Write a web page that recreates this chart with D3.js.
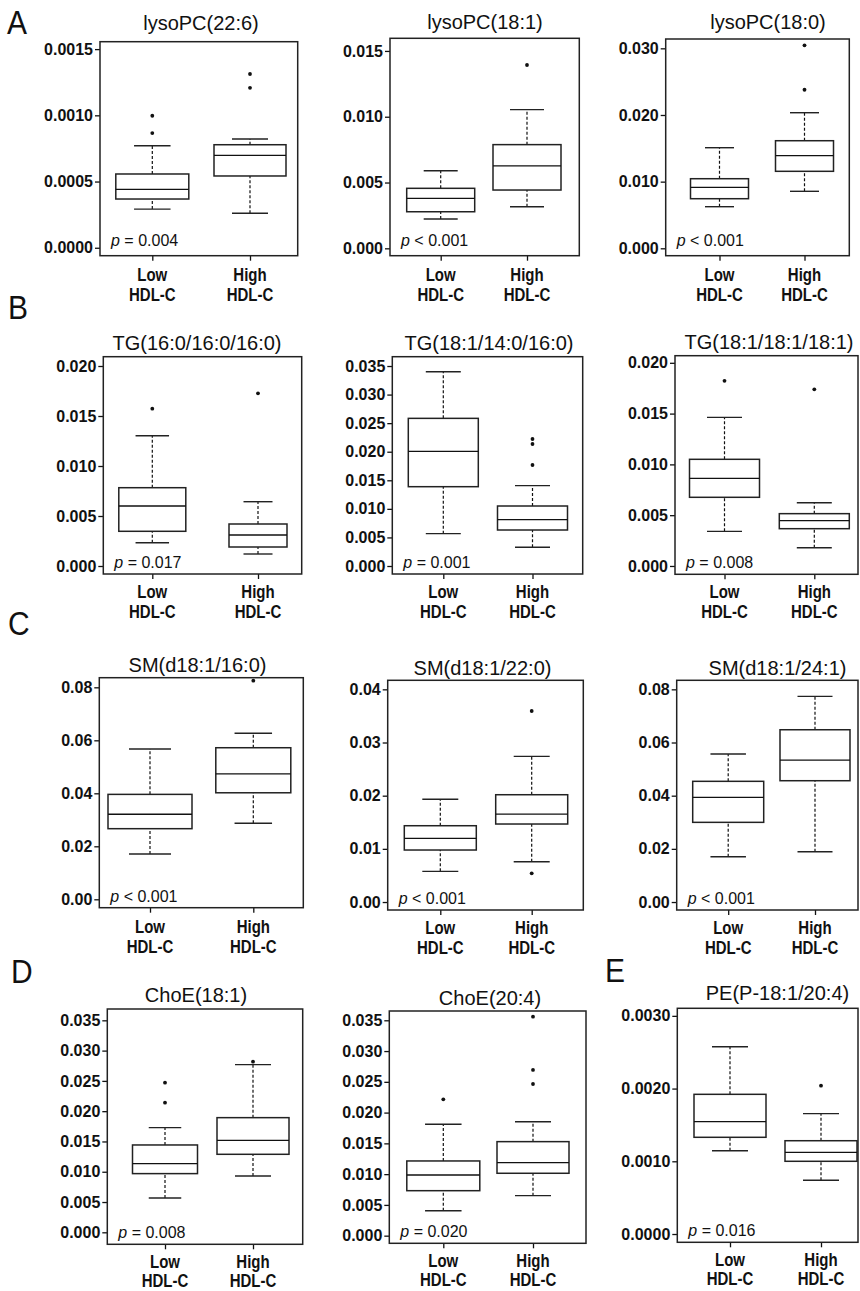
<!DOCTYPE html>
<html>
<head>
<meta charset="utf-8">
<script src="https://cdnjs.cloudflare.com/ajax/libs/d3/7.8.5/d3.min.js"></script>
<style>
  body { margin: 0; background: #fff; }
  svg text { font-family: "Liberation Sans", Arial, sans-serif; fill: #111; }
</style>
</head>
<body>
<div id="main"></div>
<script>
// values
var groups = ['Low', 'High'];
var panelLetters = ['A', 'B', 'C', 'D', 'E'];

var titles = [
  'lysoPC(22:6)', 'lysoPC(18:1)', 'lysoPC(18:0)',
  'TG(16:0/16:0/16:0)', 'TG(18:1/14:0/16:0)', 'TG(18:1/18:1/18:1)',
  'SM(d18:1/16:0)', 'SM(d18:1/22:0)', 'SM(d18:1/24:1)',
  'ChoE(18:1)', 'ChoE(20:4)', 'PE(P-18:1/20:4)'
];

var pLabels = [
  '= 0.004', '< 0.001', '< 0.001',
  '= 0.017', '= 0.001', '= 0.008',
  '< 0.001', '< 0.001', '< 0.001',
  '= 0.008', '= 0.020', '= 0.016'
];

// [lower whisker, Q1, median, Q3, upper whisker]
var lowStats = [
  [0.000292, 0.000368, 0.000441, 0.000557, 0.000770],
  [0.00223, 0.00278, 0.00380, 0.00456, 0.00590],
  [0.00624, 0.00744, 0.00915, 0.01044, 0.01509],
  [0.00233, 0.00347, 0.0060, 0.00783, 0.01303],
  [0.00566, 0.01388, 0.02007, 0.02584, 0.0340],
  [0.00341, 0.00676, 0.00863, 0.0105, 0.01463],
  [0.0171, 0.02665, 0.0321, 0.0396, 0.0567],
  [0.00577, 0.00978, 0.01198, 0.01435, 0.01932],
  [0.01705, 0.02997, 0.03937, 0.0454, 0.05567],
  [0.00567, 0.00969, 0.01134, 0.01442, 0.01728],
  [0.00406, 0.00731, 0.00986, 0.01214, 0.0181],
  [0.001146, 0.00133, 0.001545, 0.001921, 0.002576]
];

var highStats = [
  [0.000260, 0.000542, 0.000698, 0.000778, 0.000821],
  [0.00316, 0.00443, 0.00626, 0.00788, 0.01054],
  [0.00855, 0.01155, 0.01389, 0.01614, 0.02034],
  [0.0012, 0.0019, 0.0031, 0.0042, 0.00643],
  [0.00327, 0.0063, 0.0081, 0.0105, 0.01406],
  [0.0018, 0.00367, 0.00446, 0.00515, 0.00623],
  [0.0287, 0.0402, 0.0473, 0.0572, 0.06265],
  [0.00758, 0.01467, 0.01655, 0.02018, 0.0274],
  [0.01893, 0.04563, 0.0534, 0.0648, 0.07736],
  [0.0093, 0.01288, 0.01519, 0.01893, 0.02768],
  [0.0065, 0.01014, 0.01186, 0.01528, 0.01852],
  [0.000739, 0.001, 0.001124, 0.001283, 0.001655]
];

var lowOutliers = [
  [0.000997, 0.000866], [], [],
  [0.01573], [], [0.01823],
  [], [], [],
  [0.02471, 0.02141], [0.02216], []
];

var highOutliers = [
  [0.001312, 0.001208], [0.01393], [0.02379, 0.03045],
  [0.01727], [0.02223, 0.02135, 0.01768], [0.01739],
  [0.0825], [0.03593, 0.0054], [],
  [0.02817], [0.03559, 0.02693, 0.02465], [0.00204]
];

var yTicks = [
  [0, 0.0005, 0.0010, 0.0015], [0, 0.005, 0.010, 0.015], [0, 0.010, 0.020, 0.030],
  [0, 0.005, 0.010, 0.015, 0.020],
  [0, 0.005, 0.010, 0.015, 0.020, 0.025, 0.030, 0.035],
  [0, 0.005, 0.010, 0.015, 0.020],
  [0, 0.02, 0.04, 0.06, 0.08], [0, 0.01, 0.02, 0.03, 0.04], [0, 0.02, 0.04, 0.06, 0.08],
  [0, 0.005, 0.010, 0.015, 0.020, 0.025, 0.030, 0.035],
  [0, 0.005, 0.010, 0.015, 0.020, 0.025, 0.030, 0.035],
  [0, 0.0010, 0.0020, 0.0030]
];

var tickFormats = ['.4f', '.3f', '.3f', '.3f', '.3f', '.3f', '.2f', '.2f', '.2f', '.3f', '.3f', '.4f'];

var yDomains = [
  [-0.00006, 0.001556], [-0.00056, 0.01596], [-0.00111, 0.0314],
  [-0.0008, 0.02093], [-0.0014, 0.03663], [-0.00082, 0.0207],
  [-0.00317, 0.08363], [-0.0015, 0.0417], [-0.003, 0.0834],
  [-0.00198, 0.03687], [-0.00124, 0.03651], [-0.000114, 0.003104]
];


function Sketch() {
  this.width = 860;
  this.height = 1291;
}

Sketch.prototype.init = function() {
  this.svg = d3.select('#main')
    .append('svg')
    .attr('width', this.width)
    .attr('height', this.height);

  // frame boxes and group centres of each panel
  this.layout = [
    {l: 100, t: 41.7, r: 297.7, b: 255.7, lo: 152.3, hi: 250, bw: [73, 72], tx: 201, ty: 29.5, pdy: -10, xl: [25, 45]},
    {l: 390, t: 38.3, r: 579.3, b: 255.7, lo: 440.7, hi: 527, bw: [68, 68], tx: 485, ty: 29, pdy: -10, xl: [25, 45]},
    {l: 665.7, t: 39, r: 849.3, b: 255.7, lo: 719.5, hi: 804.5, bw: [58, 58], tx: 768, ty: 29, pdy: -10, xl: [25, 45]},
    {l: 103.3, t: 356.7, r: 301.7, b: 574, lo: 152.3, hi: 258, bw: [67, 58], tx: 197, ty: 350, pdy: -6, xl: [24, 44]},
    {l: 392.3, t: 356.7, r: 582.7, b: 574, lo: 443.3, hi: 532.5, bw: [70, 70], tx: 489, ty: 350, pdy: -6, xl: [24, 44]},
    {l: 675, t: 355.7, r: 858, b: 574.3, lo: 724.5, hi: 814.3, bw: [70, 70], tx: 769, ty: 348.5, pdy: -6, xl: [24, 44]},
    {l: 99.3, t: 677.7, r: 303.3, b: 907.7, lo: 150, hi: 253.3, bw: [84, 75], tx: 197.5, ty: 672, pdy: -6, xl: [25, 45]},
    {l: 387.7, t: 680.3, r: 583.3, b: 910, lo: 440.3, hi: 531.7, bw: [72, 72], tx: 482.5, ty: 675, pdy: -6, xl: [24, 44]},
    {l: 676.7, t: 680.3, r: 858, b: 910, lo: 728.2, hi: 815, bw: [71, 70], tx: 777.5, ty: 675, pdy: -6, xl: [24, 44]},
    {l: 107.3, t: 1009, r: 302.7, b: 1244.3, lo: 165, hi: 253, bw: [65, 72], tx: 196, ty: 1001.7, pdy: -6, xl: [23.5, 42.5]},
    {l: 389.3, t: 1011, r: 586, b: 1243.3, lo: 443.3, hi: 533, bw: [73, 72], tx: 490, ty: 1005, pdy: -6, xl: [23.5, 42.5]},
    {l: 677.3, t: 1008.3, r: 858, b: 1242.3, lo: 730, hi: 821, bw: [72, 72], tx: 777.5, ty: 1000, pdy: -6, xl: [24, 43]}
  ];

  this.letterPos = [[7, 34], [8, 319], [8, 635], [11, 983], [605, 982]];
};


Sketch.prototype.render = function() {
  var svg = this.svg;

  svg.append('rect')
    .attr('width', this.width)
    .attr('height', this.height)
    .attr('fill', '#fff');

  svg.selectAll('text.letter')
    .data(panelLetters)
    .enter()
    .append('text')
    .attr('class', 'letter')
    .attr('transform', function(d, i) {
      var p = this.letterPos[i];
      return 'translate(' + p[0] + ',' + p[1] + ') scale(1,1.1)';
    }.bind(this))
    .attr('font-size', 30)
    .text(function(d) { return d; });

  for (var i = 0; i < titles.length; i++) {
    this.drawPanel(i);
  }
};


Sketch.prototype.drawPanel = function(i) {
  var lay = this.layout[i];
  var g = this.svg.append('g').attr('class', 'panel');

  var y = d3.scaleLinear().domain(yDomains[i]).range([lay.b, lay.t]);
  var x = d3.scalePoint().domain(groups).range([lay.lo, lay.hi]);

  // title
  g.append('text')
    .attr('x', lay.tx)
    .attr('y', lay.ty)
    .attr('text-anchor', 'middle')
    .attr('font-size', 20)
    .text(titles[i]);

  // y axis
  var yAxis = g.append('g')
    .attr('transform', 'translate(' + lay.l + ',0)')
    .call(d3.axisLeft(y)
      .tickValues(yTicks[i])
      .tickFormat(d3.format(tickFormats[i]))
      .tickSize(5)
      .tickPadding(2));
  yAxis.select('.domain').remove();
  yAxis.selectAll('line').attr('stroke', '#111').attr('stroke-width', 1.3);
  yAxis.selectAll('text')
    .attr('font-size', 16)
    .attr('font-weight', 'bold')
    .attr('fill', '#111')
    .style('font-family', '"Liberation Sans", Arial, sans-serif');

  // x axis ticks
  var xAxis = g.append('g')
    .attr('transform', 'translate(0,' + lay.b + ')')
    .call(d3.axisBottom(x).tickSize(5).tickFormat(''));
  xAxis.select('.domain').remove();
  xAxis.selectAll('line').attr('stroke', '#111').attr('stroke-width', 1.3);

  groups.forEach(function(grp) {
    var lab = g.append('g')
      .attr('transform', 'translate(' + x(grp) + ',' + lay.b + ')');
    lab.append('text')
      .attr('transform', 'translate(0,' + lay.xl[0] + ') scale(1,1.2)')
      .attr('text-anchor', 'middle')
      .attr('font-size', 15)
      .attr('font-weight', 'bold')
      .text(grp);
    lab.append('text')
      .attr('transform', 'translate(0,' + lay.xl[1] + ') scale(1,1.2)')
      .attr('text-anchor', 'middle')
      .attr('font-size', 15)
      .attr('font-weight', 'bold')
      .text('HDL-C');
  });

  // boxes
  var sets = [
    {grp: 'Low', s: lowStats[i], out: lowOutliers[i], w: lay.bw[0]},
    {grp: 'High', s: highStats[i], out: highOutliers[i], w: lay.bw[1]}
  ];

  sets.forEach(function(d) {
    var cx = x(d.grp);
    var s = d.s;
    var bg = g.append('g');

    // whiskers
    bg.append('line')
      .attr('x1', cx).attr('x2', cx)
      .attr('y1', y(s[0])).attr('y2', y(s[1]))
      .attr('stroke', '#111').attr('stroke-width', 1.2)
      .attr('stroke-dasharray', '3,2');
    bg.append('line')
      .attr('x1', cx).attr('x2', cx)
      .attr('y1', y(s[3])).attr('y2', y(s[4]))
      .attr('stroke', '#111').attr('stroke-width', 1.2)
      .attr('stroke-dasharray', '3,2');

    // staples
    [s[0], s[4]].forEach(function(v) {
      bg.append('line')
        .attr('x1', cx - d.w / 4).attr('x2', cx + d.w / 4)
        .attr('y1', y(v)).attr('y2', y(v))
        .attr('stroke', '#222').attr('stroke-width', 1.4);
    });

    bg.append('rect')
      .attr('x', cx - d.w / 2)
      .attr('y', y(s[3]))
      .attr('width', d.w)
      .attr('height', y(s[1]) - y(s[3]))
      .attr('fill', '#fff')
      .attr('stroke', '#222')
      .attr('stroke-width', 1.5);

    bg.append('line')
      .attr('x1', cx - d.w / 2).attr('x2', cx + d.w / 2)
      .attr('y1', y(s[2])).attr('y2', y(s[2]))
      .attr('stroke', '#111').attr('stroke-width', 1.3);

    bg.selectAll('circle')
      .data(d.out)
      .enter()
      .append('circle')
      .attr('cx', cx)
      .attr('cy', function(v) { return y(v); })
      .attr('r', 1.9)
      .attr('fill', '#111');
  });

  // frame
  g.append('rect')
    .attr('x', lay.l)
    .attr('y', lay.t)
    .attr('width', lay.r - lay.l)
    .attr('height', lay.b - lay.t)
    .attr('fill', 'none')
    .attr('stroke', '#222')
    .attr('stroke-width', 1.5);

  // p value
  var pt = g.append('text')
    .attr('x', lay.l + 11)
    .attr('y', lay.b + lay.pdy)
    .attr('font-size', 16);
  pt.append('tspan').attr('font-style', 'italic').text('p');
  pt.append('tspan').text(' ' + pLabels[i]);
};


document.addEventListener('DOMContentLoaded', function() {
  var s = new Sketch();
  s.init();
  s.render();
});
</script>
</body>
</html>
